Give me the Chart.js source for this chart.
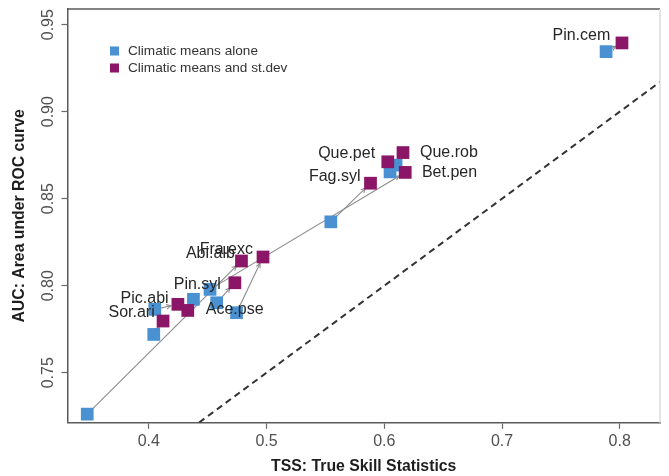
<!DOCTYPE html>
<html>
<head>
<meta charset="utf-8">
<script src="https://cdn.jsdelivr.net/npm/chart.js@4.4.1/dist/chart.umd.min.js"></script>
<style>
  html, body { margin: 0; padding: 0; background: #ffffff; }
  #wrap { width: 669px; height: 476px; position: relative; }
</style>
</head>
<body>
<div id="wrap"><canvas id="c" width="669" height="476"></canvas></div>
<script>
// ---- data ----
const species  = ['Pin.cem','Que.pet','Que.rob','Bet.pen','Fag.syl','Abi.alb','Fra.exc','Pin.syl','Pic.abi','Sor.ari','Ace.pse'];
const tssMeans = [0.7884, 0.6049, 0.6100, 0.4520, 0.5546, 0.3477, 0.4745, 0.4576, 0.4051, 0.4042, 0.4379];
const aucMeans = [0.9345, 0.8654, 0.8693, 0.7979, 0.8367, 0.7262, 0.7845, 0.7902, 0.7864, 0.7720, 0.7922];
const tssSd    = [0.8019, 0.6030, 0.6159, 0.6178, 0.5883, 0.4787, 0.4970, 0.4731, 0.4247, 0.4121, 0.4331];
const aucSd    = [0.9395, 0.8712, 0.8765, 0.8651, 0.8589, 0.8142, 0.8165, 0.8017, 0.7893, 0.7797, 0.7858];
const seriesNames = ['Climatic means alone', 'Climatic means and st.dev'];
const xTicks = [0.4, 0.5, 0.6, 0.7, 0.8];
const yTicks = [0.75, 0.80, 0.85, 0.90, 0.95];
const xTickLabels = ['0.4', '0.5', '0.6', '0.7', '0.8'];
const yTickLabels = ['0.75', '0.80', '0.85', '0.90', '0.95'];
const refLineX = [0.3, 0.9];
const refLineY = [0.65, 0.95];
const xTitle = 'TSS: True Skill Statistics';
const yTitle = 'AUC: Area under ROC curve';

// ---- styling / label placement ----
const BLUE = '#4a91d2';
const PURPLE = '#8b1566';
const labelPlace = {
  'Pin.cem': ['right', -11.7, -7.3],
  'Que.pet': ['right', -12.7, -8],
  'Que.rob': ['left', 17, 0],
  'Bet.pen': ['left', 16.7, 0.5],
  'Fag.syl': ['right', -10, -7],
  'Abi.alb': ['right', -6.6, -7],
  'Fra.exc': ['right', -10, -7],
  'Pin.syl': ['right', -14, 1.5],
  'Pic.abi': ['right', -9.3, -6],
  'Sor.ari': ['right', -8.3, -8],
  'Ace.pse': ['left', 18, -1]
};
const FONT = '"Liberation Sans", Arial, Helvetica, sans-serif';

const ptsMeans = tssMeans.map((v, i) => ({x: v, y: aucMeans[i]}));
const ptsSd = tssSd.map((v, i) => ({x: v, y: aucSd[i]}));

const extras = {
  id: 'extras',
  beforeDatasetsDraw(chart) {
    const {ctx, scales: {x, y}} = chart;
    ctx.save();
    ctx.strokeStyle = '#8c8c8c';
    ctx.lineWidth = 1.1;
    for (let i = 0; i < species.length; i++) {
      const x0 = x.getPixelForValue(tssMeans[i]), y0 = y.getPixelForValue(aucMeans[i]);
      const x1 = x.getPixelForValue(tssSd[i]), y1 = y.getPixelForValue(aucSd[i]);
      const ang = Math.atan2(y1 - y0, x1 - x0);
      const d = Math.hypot(x1 - x0, y1 - y0);
      const back = Math.min(7, d * 0.5);
      const tx = x1 - back * Math.cos(ang), ty = y1 - back * Math.sin(ang);
      ctx.beginPath();
      ctx.moveTo(x0, y0);
      ctx.lineTo(tx, ty);
      ctx.stroke();
      const hl = 5, ha = 0.45;
      ctx.beginPath();
      ctx.moveTo(tx - hl * Math.cos(ang - ha), ty - hl * Math.sin(ang - ha));
      ctx.lineTo(tx, ty);
      ctx.lineTo(tx - hl * Math.cos(ang + ha), ty - hl * Math.sin(ang + ha));
      ctx.stroke();
    }
    ctx.restore();
  },
  afterDraw(chart) {
    const {ctx, chartArea: a, scales: {x, y}} = chart;
    ctx.save();
    // box (top and right)
    ctx.strokeStyle = '#5a5a5a';
    ctx.lineWidth = 1.5;
    ctx.beginPath();
    ctx.moveTo(a.left, a.top);
    ctx.lineTo(a.right, a.top);
    ctx.stroke();
    ctx.strokeStyle = '#dddddd';
    ctx.beginPath();
    ctx.moveTo(a.right, a.top);
    ctx.lineTo(a.right, a.bottom);
    ctx.stroke();
    // rotated y tick labels
    ctx.fillStyle = '#505050';
    ctx.font = '16px ' + FONT;
    ctx.textAlign = 'center';
    ctx.textBaseline = 'alphabetic';
    yTicks.forEach((v, i) => {
      const py = y.getPixelForValue(v);
      ctx.save();
      ctx.translate(52.5, py);
      ctx.rotate(-Math.PI / 2);
      ctx.fillText(yTickLabels[i], 0, 0);
      ctx.restore();
    });
    // species labels
    ctx.fillStyle = '#262626';
    ctx.font = '16px ' + FONT;
    ctx.textBaseline = 'middle';
    species.forEach((s, i) => {
      const p = labelPlace[s];
      const px = x.getPixelForValue(tssSd[i]), py = y.getPixelForValue(aucSd[i]);
      ctx.textAlign = p[0];
      ctx.fillText(s, px + p[1], py + p[2]);
    });
    // legend
    const cols = [BLUE, PURPLE];
    ctx.font = '13.6px ' + FONT;
    ctx.textAlign = 'left';
    ctx.textBaseline = 'middle';
    seriesNames.forEach((n, i) => {
      const cy = 51 + i * 17;
      ctx.fillStyle = cols[i];
      ctx.fillRect(110, cy - 4.5, 9, 9);
      ctx.fillStyle = '#333333';
      ctx.fillText(n, 128, cy + 0.5);
    });
    ctx.restore();
  }
};

new Chart(document.getElementById('c'), {
  type: 'scatter',
  data: {
    datasets: [
      {
        label: seriesNames[1],
        data: ptsSd,
        pointStyle: 'rect',
        radius: 9,
        hoverRadius: 9,
        backgroundColor: PURPLE,
        borderColor: PURPLE,
        borderWidth: 0,
        order: 0,
        clip: false
      },
      {
        label: seriesNames[0],
        data: ptsMeans,
        pointStyle: 'rect',
        radius: 9,
        hoverRadius: 9,
        backgroundColor: BLUE,
        borderColor: BLUE,
        borderWidth: 0,
        order: 1,
        clip: false
      },
      {
        type: 'line',
        label: 'ref',
        data: refLineX.map((v, i) => ({x: v, y: refLineY[i]})),
        borderColor: '#333333',
        borderWidth: 2,
        borderDash: [6.5, 4.5],
        pointRadius: 0,
        fill: false,
        order: 2
      }
    ]
  },
  options: {
    responsive: false,
    animation: false,
    events: [],
    layout: { padding: { left: 0, top: 8.3, right: 4, bottom: 0 } },
    plugins: { legend: { display: false }, tooltip: { enabled: false } },
    scales: {
      x: {
        type: 'linear',
        min: 0.3309,
        max: 0.8342,
        afterBuildTicks: (s) => { s.ticks = xTicks.map(v => ({value: v})); },
        ticks: {
          callback: (v) => xTickLabels[xTicks.indexOf(v)] ?? '',
          color: '#505050',
          font: { family: FONT, size: 16 },
          padding: 3,
          maxRotation: 0
        },
        grid: { display: true, drawOnChartArea: false, drawTicks: true, tickLength: 6, color: '#6a6a6a', tickWidth: 1.2 },
        border: { display: true, color: '#5a5a5a', width: 1.5 },
        title: {
          display: true, text: xTitle, color: '#1e1e1e',
          font: { family: FONT, size: 15.8, weight: 'bold' },
          padding: { top: 3.0, bottom: 0 }
        }
      },
      y: {
        type: 'linear',
        min: 0.7212,
        max: 0.959,
        afterBuildTicks: (s) => { s.ticks = yTicks.map(v => ({value: v})); },
        ticks: { display: false },
        grid: { display: true, drawOnChartArea: false, drawTicks: true, tickLength: 6, color: '#6a6a6a', tickWidth: 1.2 },
        border: { display: true, color: '#5a5a5a', width: 1.5 },
        title: {
          display: true, text: yTitle, color: '#1e1e1e',
          font: { family: FONT, size: 15.8, weight: 'bold' },
          padding: { top: 10.5, bottom: 32 }
        }
      }
    }
  },
  plugins: [extras]
});
</script>
</body>
</html>
